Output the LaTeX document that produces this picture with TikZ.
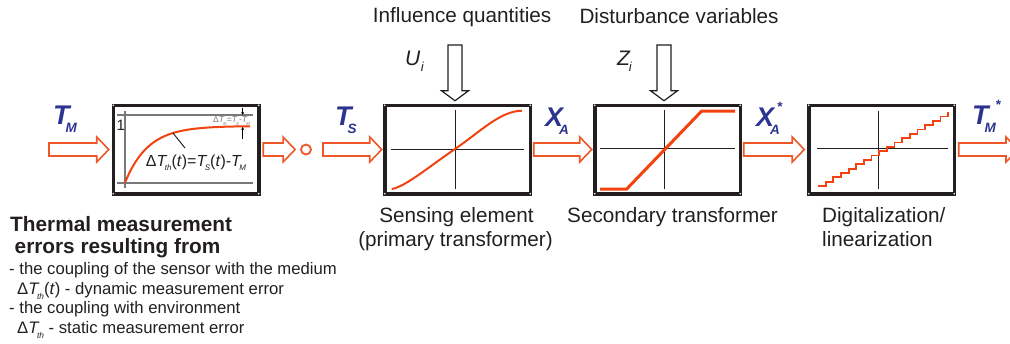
\documentclass[tikz,border=0pt]{standalone}
\usepackage{fontspec}
\setmainfont{Liberation Sans}
\usepackage{xcolor}
\usepackage{tikz}
\usetikzlibrary{arrows.meta, positioning, calc}

\definecolor{flowred}{RGB}{238,88,40}
\definecolor{curvered}{RGB}{242,66,16}
\definecolor{varblue}{RGB}{44,52,144}
\definecolor{textgray}{RGB}{35,31,32}
\definecolor{gridgray}{RGB}{120,120,120}

\newcommand{\lowsub}[2][-0.15em]{\kern#1\raisebox{-0.3em}{\scalebox{0.5}{#2}}}
\newcommand{\lowidx}[2][0em]{\kern#1\raisebox{-0.32em}{\scalebox{0.62}{#2}}}
\newcommand{\highsup}[2][0.1em]{\rlap{\kern#1\raisebox{0.55em}{\scalebox{0.5}{#2}}}}

% hollow block arrows, right and down
\newcommand{\rarrow}[3]{%
  \draw[#1] let \p1=(#2), \p2=(#3) in
    (\x1,{\y1+6.5pt}) -- ({\x2-12pt},{\y1+6.5pt}) -- ({\x2-12pt},{\y1+12.5pt})
    -- (\x2,\y1) -- ({\x2-12pt},{\y1-12.5pt}) -- ({\x2-12pt},{\y1-6.5pt})
    -- (\x1,{\y1-6.5pt}) -- cycle;}
\newcommand{\darrow}[3]{%
  \draw[#1] let \p1=(#2), \p2=(#3) in
    ({\x1-7pt},\y1) -- ({\x1-7pt},{\y2+10pt}) -- ({\x1-13.5pt},{\y2+10pt})
    -- (\x1,\y2) -- ({\x1+13.5pt},{\y2+10pt}) -- ({\x1+7pt},{\y2+10pt})
    -- ({\x1+7pt},\y1) -- cycle;}

\begin{document}
\begin{tikzpicture}[
      x=1pt, y=-1pt,
      box/.style={draw=textgray, line width=3.5pt, fill=white, inner sep=0pt,
        outer sep=0pt, minimum width=145.5pt, minimum height=88.5pt},
      flow/.style={draw=flowred, line width=1.6pt, fill=white},
      input/.style={draw=textgray, line width=1.2pt, fill=white},
      axis/.style={draw=textgray, line width=0.8pt},
      grid/.style={draw=gridgray, line width=1.6pt},
      curve/.style={draw=curvered, line width=2pt},
      var/.style={text=varblue, inner sep=0pt, anchor=base west,
        font=\fontsize{27}{27}\selectfont\bfseries\itshape},
      infl/.style={text=textgray, inner sep=0pt, anchor=base west,
        font=\fontsize{21}{21}\selectfont\itshape},
      head/.style={text=textgray, inner sep=0pt, anchor=base west,
        font=\fontsize{20.7}{24}\selectfont},
      caption/.style={head, anchor=base},
      errhead/.style={text=textgray, inner sep=0pt, anchor=base west,
        font=\fontsize{20.8}{24}\selectfont\bfseries},
      errline/.style={text=textgray, inner sep=0pt, anchor=base west,
        font=\fontsize{16.7}{20}\selectfont}
    ]
    \useasboundingbox (0,0) rectangle (1010,343);

    % blocks
    \node[box] (lag) at (186,149.5) {};
    \node[box] (sensor) at (457.5,149.5) {};
    \node[box] (secondary) at (667.5,149.5) {};
    \node[box] (digital) at (881.5,149.5) {};
    \foreach \b in {lag,sensor,secondary,digital}
      \foreach \c in {north west,north east,south west,south east}
        \fill[white] (\b.\c) circle (0.9pt);

    % step response of the sensor
    \draw[grid] (117,115) -- (253,115);
    \draw[grid] (117,182.7) -- (253,182.7);
    \draw[grid] (125,110.7) -- (125,188.3);
    \node[text=textgray, inner sep=0pt, anchor=base west,
      font=\fontsize{15}{15}\selectfont] (one) at (116.5,130) {1};
    \draw[curve] plot[domain=125:250, samples=60] (\x, {126+56.7*exp(-(\x-125)/23)});
    \coordinate (lead) at (173,{126+56.7*exp(-48/23)});
    \node[text=textgray, inner sep=0pt, anchor=base,
      font=\fontsize{16}{16}\selectfont] (dyn) at (196,166)
      {Δ\textit{T}\lowsub{\textit{th}}(\textit{t})=\textit{T}\lowsub{\textit{S}}(\textit{t})-\textit{T}\lowsub{\textit{M}}};
    \draw[line width=0.8pt] (lead) -- (185,148);
    \node[text=gridgray, inner sep=0pt,
      font=\fontsize{8.5}{8.5}\selectfont] (stat) at (231.5,121)
      {Δ\textit{T}\lowsub{\textit{th}}=\textit{T}\lowsub{\textit{S}}-\textit{T}\lowsub{\textit{M}}};
    \draw[-{Stealth[length=3pt,width=3pt]}, line width=0.7pt] (242.7,107.5) -- (242.7,115);
    \draw[-{Stealth[length=3pt,width=3pt]}, line width=0.7pt] (242.7,139) -- (242.7,127);

    % characteristics
    \draw[axis] (391,149) -- (524,149);
    \draw[axis] (455,110) -- (455,189);
    \draw[curve] (391.7,189) .. controls (405,187) and (430,166) .. (455,149)
      .. controls (480,132) and (500,111) .. (522,110.7);
    \draw[axis] (600,148.5) -- (735,148.5);
    \draw[axis] (664,110) -- (664,189);
    \draw[curve, line width=3pt] (600,189) -- (626.7,189) -- (701.7,111) -- (735,111);
    \draw[axis] (817,148.5) -- (948,148.5);
    \draw[axis] (878.3,110.7) -- (878.3,189);
    \draw[curve, line width=1.8pt] (818,186)
      \foreach \k in {1,...,17} { -| ({818+\k*7.65},{186-\k*4.35}) };

    % signal flow
    \coordinate (tmin) at (49,149.5);
    \coordinate (tsin) at (323,149.5);
    \coordinate (tmout) at (1018,149.5);
    \node[circle, draw=flowred, line width=1.8pt, minimum size=10pt, inner sep=0pt] (sum) at (306,149.5) {};
    \rarrow{flow}{tmin}{$(lag.west)+(-4.5,0)$}
    \rarrow{flow}{$(lag.east)+(4.5,0)$}{$(sum.west)+(-5,0)$}
    \rarrow{flow}{tsin}{$(sensor.west)+(-3,0)$}
    \rarrow{flow}{$(sensor.east)+(3.5,0)$}{$(secondary.west)+(-3,0)$}
    \rarrow{flow}{$(secondary.east)+(3.5,0)$}{$(digital.west)+(-4.5,0)$}
    \rarrow{flow}{$(digital.east)+(4.5,0)$}{tmout}

    % influences
    \coordinate (utop) at (455,45);
    \coordinate (ztop) at (664,45);
    \darrow{input}{utop}{$(utop |- sensor.north)+(0,-4.5)$}
    \darrow{input}{ztop}{$(ztop |- secondary.north)+(0,-4.5)$}

    % labels
    \node[head] (infq) at (372.7,22.7) {Influence quantities};
    \node[head] (dist) at (579.3,23.3) {Disturbance variables};
    \node[infl] (ui) at (405,65) {U\lowidx[0.02em]{i}};
    \node[infl] (zi) at (617,65) {Z\lowidx[-0.05em]{i}};
    \node[var] (tm) at (53,124) {T\lowsub{M}};
    \node[var] (ts) at (335,125) {T\lowsub{S}};
    \node[var] (xa) at (545,126) {X\lowsub{A}};
    \node[var] (xas) at (756,126) {X\highsup{*}\lowsub{A}};
    \node[var] (tms) at (972,124) {T\highsup[0.25em]{*}\lowsub{M}};

    \node[caption] (sens1) at (456.5,222) {Sensing element};
    \node[caption] (sens2) at (455.5,246) {(primary transformer)};
    \node[caption] (sec1) at (672.5,222) {Secondary transformer};
    \node[head] (dig1) at (822,222) {Digitalization/};
    \node[head] (dig2) at (822,246) {linearization};

    \node[errhead] (err1) at (10,231.7) {Thermal measurement};
    \node[errhead] (err2) at (14.5,253.3) {errors resulting from};
    \node[errline] (err3) at (9,274) {- the coupling of the sensor with the medium};
    \node[errline] (err4) at (17,294) {Δ\textit{T}\lowsub{\textit{th}}(\textit{t}) - dynamic measurement error};
    \node[errline] (err5) at (9,313.3) {- the coupling with environment};
    \node[errline] (err6) at (17,333) {Δ\textit{T}\lowsub{\textit{th}} - static measurement error};
\end{tikzpicture}
\end{document}
